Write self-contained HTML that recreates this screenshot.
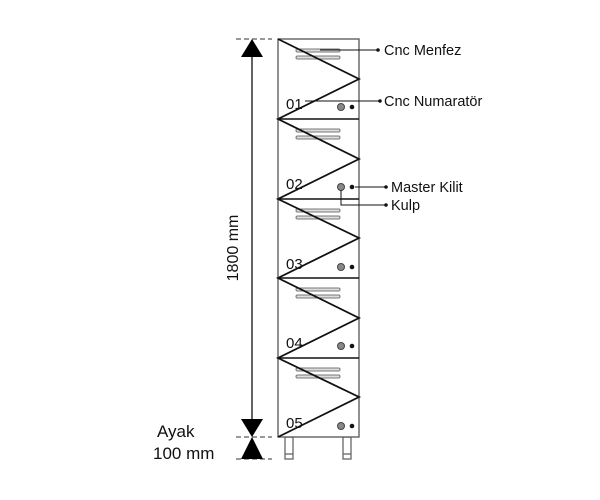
<!DOCTYPE html>
<html><head><style>body{margin:0;background:#fff}svg{display:block}text{font-family:"Liberation Sans",sans-serif}</style></head>
<body>
<svg width="600" height="500" viewBox="0 0 600 500">
<rect width="600" height="500" fill="#fff"/>
<g fill="#fff" stroke="#666" stroke-width="1.3">
<rect x="285" y="437" width="8" height="22"/>
<rect x="343" y="437" width="8" height="22"/>
<line x1="285" y1="454" x2="293" y2="454"/><line x1="343" y1="454" x2="351" y2="454"/>
</g>
<rect x="278" y="39" width="81" height="398" fill="#fff" stroke="#555" stroke-width="1.3"/>
<g stroke="#111" stroke-width="1.5">
<line x1="278" y1="119" x2="359" y2="119"/>
<line x1="278" y1="199" x2="359" y2="199"/>
<line x1="278" y1="278" x2="359" y2="278"/>
<line x1="278" y1="358" x2="359" y2="358"/>
</g>
<g fill="#ddd" stroke="#777" stroke-width="1">
<rect x="296" y="49" width="44" height="3" rx="1.5"/><rect x="296" y="56" width="44" height="3" rx="1.5"/>
<rect x="296" y="129" width="44" height="3" rx="1.5"/><rect x="296" y="136" width="44" height="3" rx="1.5"/>
<rect x="296" y="209" width="44" height="3" rx="1.5"/><rect x="296" y="216" width="44" height="3" rx="1.5"/>
<rect x="296" y="288" width="44" height="3" rx="1.5"/><rect x="296" y="295" width="44" height="3" rx="1.5"/>
<rect x="296" y="368" width="44" height="3" rx="1.5"/><rect x="296" y="375" width="44" height="3" rx="1.5"/>
</g>
<polyline points="278,39 359,79 278,119 359,159 278,199 359,238 278,278 359,318 278,358 359,397 278,437" fill="none" stroke="#111" stroke-width="1.8"/>
<g>
<circle cx="341" cy="107" r="3.5" fill="#888" stroke="#444"/><circle cx="352" cy="107" r="2.3" fill="#111"/>
<circle cx="341" cy="187" r="3.5" fill="#888" stroke="#444"/><circle cx="352" cy="187" r="2.3" fill="#111"/>
<circle cx="341" cy="267" r="3.5" fill="#888" stroke="#444"/><circle cx="352" cy="267" r="2.3" fill="#111"/>
<circle cx="341" cy="346" r="3.5" fill="#888" stroke="#444"/><circle cx="352" cy="346" r="2.3" fill="#111"/>
<circle cx="341" cy="426" r="3.5" fill="#888" stroke="#444"/><circle cx="352" cy="426" r="2.3" fill="#111"/>
</g>
<g font-size="15" fill="#111">
<text x="286" y="109">01</text><text x="286" y="189">02</text><text x="286" y="269">03</text><text x="286" y="348">04</text><text x="286" y="428">05</text>
</g>
<g stroke="#111" stroke-width="1" fill="none">
<line x1="320" y1="50" x2="378" y2="50"/>
<line x1="305" y1="101" x2="380" y2="101"/>
<line x1="355" y1="187" x2="386" y2="187"/>
<polyline points="341,190 341,205 386,205"/>
</g>
<g fill="#111"><circle cx="378" cy="50" r="1.8"/><circle cx="380" cy="101" r="1.8"/><circle cx="386" cy="187" r="1.8"/><circle cx="386" cy="205" r="1.8"/></g>
<g font-size="14.5" fill="#111">
<text x="384" y="55">Cnc Menfez</text>
<text x="384" y="106">Cnc Numaratör</text>
<text x="391" y="192">Master Kilit</text>
<text x="391" y="210">Kulp</text>
</g>
<g stroke="#333" stroke-width="1" stroke-dasharray="5,3">
<line x1="236" y1="39" x2="272" y2="39"/>
<line x1="236" y1="437" x2="272" y2="437"/>
<line x1="236" y1="459" x2="272" y2="459"/>
</g>
<line x1="252" y1="50" x2="252" y2="430" stroke="#111" stroke-width="1.3"/>
<g fill="#000">
<polygon points="252,39 241,57 263,57"/>
<polygon points="252,437 241,419 263,419"/>
<polygon points="252,437 241,459 263,459"/>
</g>
<text transform="translate(238,248) rotate(-90)" text-anchor="middle" font-size="16" fill="#111">1800 mm</text>
<text x="157" y="437" font-size="17" fill="#111">Ayak</text>
<text x="153" y="459" font-size="17" fill="#111">100 mm</text>
</svg>
</body></html>
